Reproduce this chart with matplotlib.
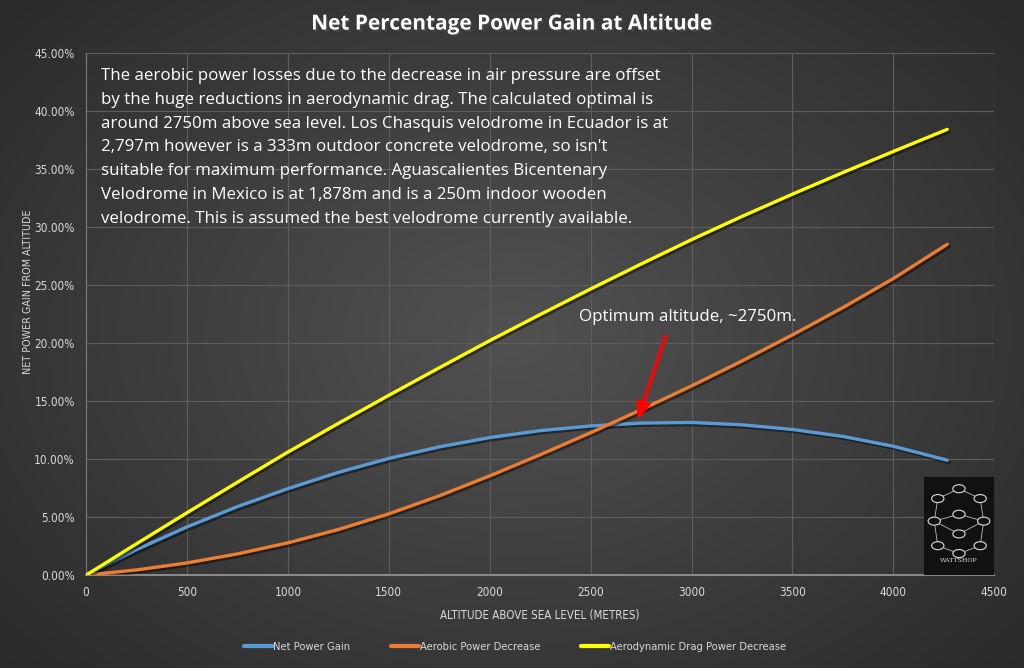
import matplotlib.pyplot as plt
import numpy as np
import matplotlib.patheffects as pe
from matplotlib import font_manager
from matplotlib.patches import Rectangle, Circle

# altitude in metres, values in percent
altitude = [0, 250, 500, 750, 1000, 1250, 1500, 1750, 2000, 2250, 2500,
            2750, 3000, 3250, 3500, 3750, 4000, 4267]
net_gain = [0, 2.2, 4.15, 5.9, 7.45, 8.85, 10.05, 11.05, 11.85, 12.45, 12.85,
            13.1, 13.15, 12.95, 12.55, 11.95, 11.1, 9.9]
aerobic_decrease = [0, 0.45, 1.05, 1.83, 2.78, 3.93, 5.28, 6.83, 8.55, 10.37, 12.27,
                    14.25, 16.3, 18.45, 20.7, 23.05, 25.55, 28.5]
drag_decrease = [0, 2.7, 5.37, 8.0, 10.6, 13.07, 15.49, 17.86, 20.2, 22.45, 24.65,
                 26.8, 28.9, 30.9, 32.82, 34.68, 36.5, 38.4]

series_names = ["Net Power Gain", "Aerobic Power Decrease", "Aerodynamic Drag Power Decrease"]
COLORS = ["#5b9bd5", "#ed7d31", "#ffff00"]

x_ticks = [0, 500, 1000, 1500, 2000, 2500, 3000, 3500, 4000, 4500]
y_ticks = [0, 5, 10, 15, 20, 25, 30, 35, 40, 45]

note = ("The aerobic power losses due to the decrease in air pressure are offset\n"
        "by the huge reductions in aerodynamic drag. The calculated optimal is\n"
        "around 2750m above sea level. Los Chasquis velodrome in Ecuador is at\n"
        "2,797m however is a 333m outdoor concrete velodrome, so isn't\n"
        "suitable for maximum performance. Aguascalientes Bicentenary\n"
        "Velodrome in Mexico is at 1,878m and is a 250m indoor wooden\n"
        "velodrome. This is assumed the best velodrome currently available.")

# narrow font for axis text (Calibri-like look)
names = {f.name for f in font_manager.fontManager.ttflist}
narrow = "Liberation Sans Narrow" if "Liberation Sans Narrow" in names else "DejaVu Sans"


def narrow_font(size):
    return font_manager.FontProperties(family=narrow, stretch="condensed", size=size)


fig = plt.figure(figsize=(10.24, 6.68), dpi=100)

# radial gradient background
bg = fig.add_axes([0, 0, 1, 1], zorder=-10)
gx, gy = np.meshgrid(np.linspace(-1, 1, 400), np.linspace(-1, 1, 300))
r = np.sqrt(gx ** 2 + (gy * 0.9) ** 2)
shade = 0.32 - 0.155 * np.clip(r / 1.35, 0, 1)
bg.imshow(np.dstack([shade, shade, shade]), aspect="auto", extent=[0, 1, 0, 1])
bg.axis("off")

ax = fig.add_axes([0.084, 0.139, 0.887, 0.782])
ax.set_facecolor("none")

shadow = [pe.SimpleLineShadow(offset=(1.5, -1.5), shadow_color="black", alpha=0.45), pe.Normal()]
for vals, name, c in zip([net_gain, aerobic_decrease, drag_decrease], series_names, COLORS):
    ax.plot(altitude, vals, color=c, lw=2.4, label=name, solid_capstyle="round",
            solid_joinstyle="round", path_effects=shadow, zorder=3)

ax.set_xlim(0, 4500)
ax.set_ylim(0, 45)
ax.set_xticks(x_ticks)
ax.set_yticks(y_ticks)
ax.set_yticklabels(["%.2f%%" % v for v in y_ticks])
ax.grid(color="#5e5e5e", lw=0.8)
ax.set_axisbelow(True)
ax.tick_params(length=0, colors="#d9d9d9", pad=8)
for lab in ax.get_xticklabels() + ax.get_yticklabels():
    lab.set_fontproperties(narrow_font(8.5))
for s in ["top", "right"]:
    ax.spines[s].set_visible(False)
ax.spines["left"].set_color("#7a7a7a")
ax.spines["bottom"].set_color("#9a9a9a")
ax.spines["bottom"].set_linewidth(1.2)

ax.set_xlabel("ALTITUDE ABOVE SEA LEVEL (METRES)", color="#d9d9d9",
              fontproperties=narrow_font(8.3), labelpad=7)
ax.set_ylabel("NET POWER GAIN FROM ALTITUDE", color="#d9d9d9",
              fontproperties=narrow_font(7.7))
ax.yaxis.set_label_coords(-0.058, 0.542)

fig.text(0.5, 0.964, "Net Percentage Power Gain at Altitude", ha="center", va="center",
         color="white", fontsize=15, fontweight="bold", fontfamily="Open Sans",
         path_effects=[pe.withSimplePatchShadow(offset=(1.5, -1.5), alpha=0.6)])

ax.text(75, 43.65, note, color="white", fontsize=12.2, fontfamily="Open Sans",
        va="top", ha="left", linespacing=1.64)

ax.text(2440, 22.2, "Optimum altitude, ~2750m.", color="white", fontsize=12.2,
        fontfamily="Open Sans", va="center")
ax.annotate("", xy=(2733, 13.35), xytext=(2872, 20.6),
            arrowprops=dict(arrowstyle="-|>,head_width=0.4,head_length=1.0",
                            color="#ff0000", lw=2.5, shrinkA=0, shrinkB=0))

# logo box
lx0, ly0, lw, lh = 0.902, 0.139, 0.069, 0.147
fig.patches.append(Rectangle((lx0, ly0), lw, lh, transform=fig.transFigure,
                             facecolor="#111111", edgecolor="none", zorder=5))
links = [(0.5, 0.88), (0.8, 0.78), (0.85, 0.55), (0.8, 0.3), (0.5, 0.22),
         (0.2, 0.3), (0.15, 0.55), (0.2, 0.78), (0.5, 0.88)]
inner = [(0.15, 0.55), (0.5, 0.62), (0.85, 0.55), (0.5, 0.42), (0.15, 0.55)]
for path in (links, inner):
    px = [lx0 + p[0] * lw for p in path]
    py = [ly0 + p[1] * lh for p in path]
    fig.add_artist(plt.Line2D(px, py, transform=fig.transFigure, color="#bbbbbb",
                              lw=0.6, zorder=6))
for cx, cy in links[:-1] + inner[1:4:2]:
    fig.patches.append(Circle((lx0 + cx * lw, ly0 + cy * lh), 0.006,
                              transform=fig.transFigure, facecolor="#111111",
                              edgecolor="#dddddd", lw=0.8, zorder=7))
fig.text(lx0 + lw / 2, ly0 + 0.02, "WATTSHOP", color="#dddddd", fontsize=4.5,
         ha="center", fontfamily="DejaVu Serif", zorder=7)

leg = fig.legend(loc="center", bbox_to_anchor=(0.503, 0.031), ncol=3, frameon=False,
                 handlelength=2.6, columnspacing=3.6, handletextpad=0.05,
                 labelcolor="#d9d9d9", prop=narrow_font(8.0))
for h in leg.get_lines():
    h.set_path_effects([])
    h.set_linewidth(3)

fig.savefig("out.png", dpi=100)
